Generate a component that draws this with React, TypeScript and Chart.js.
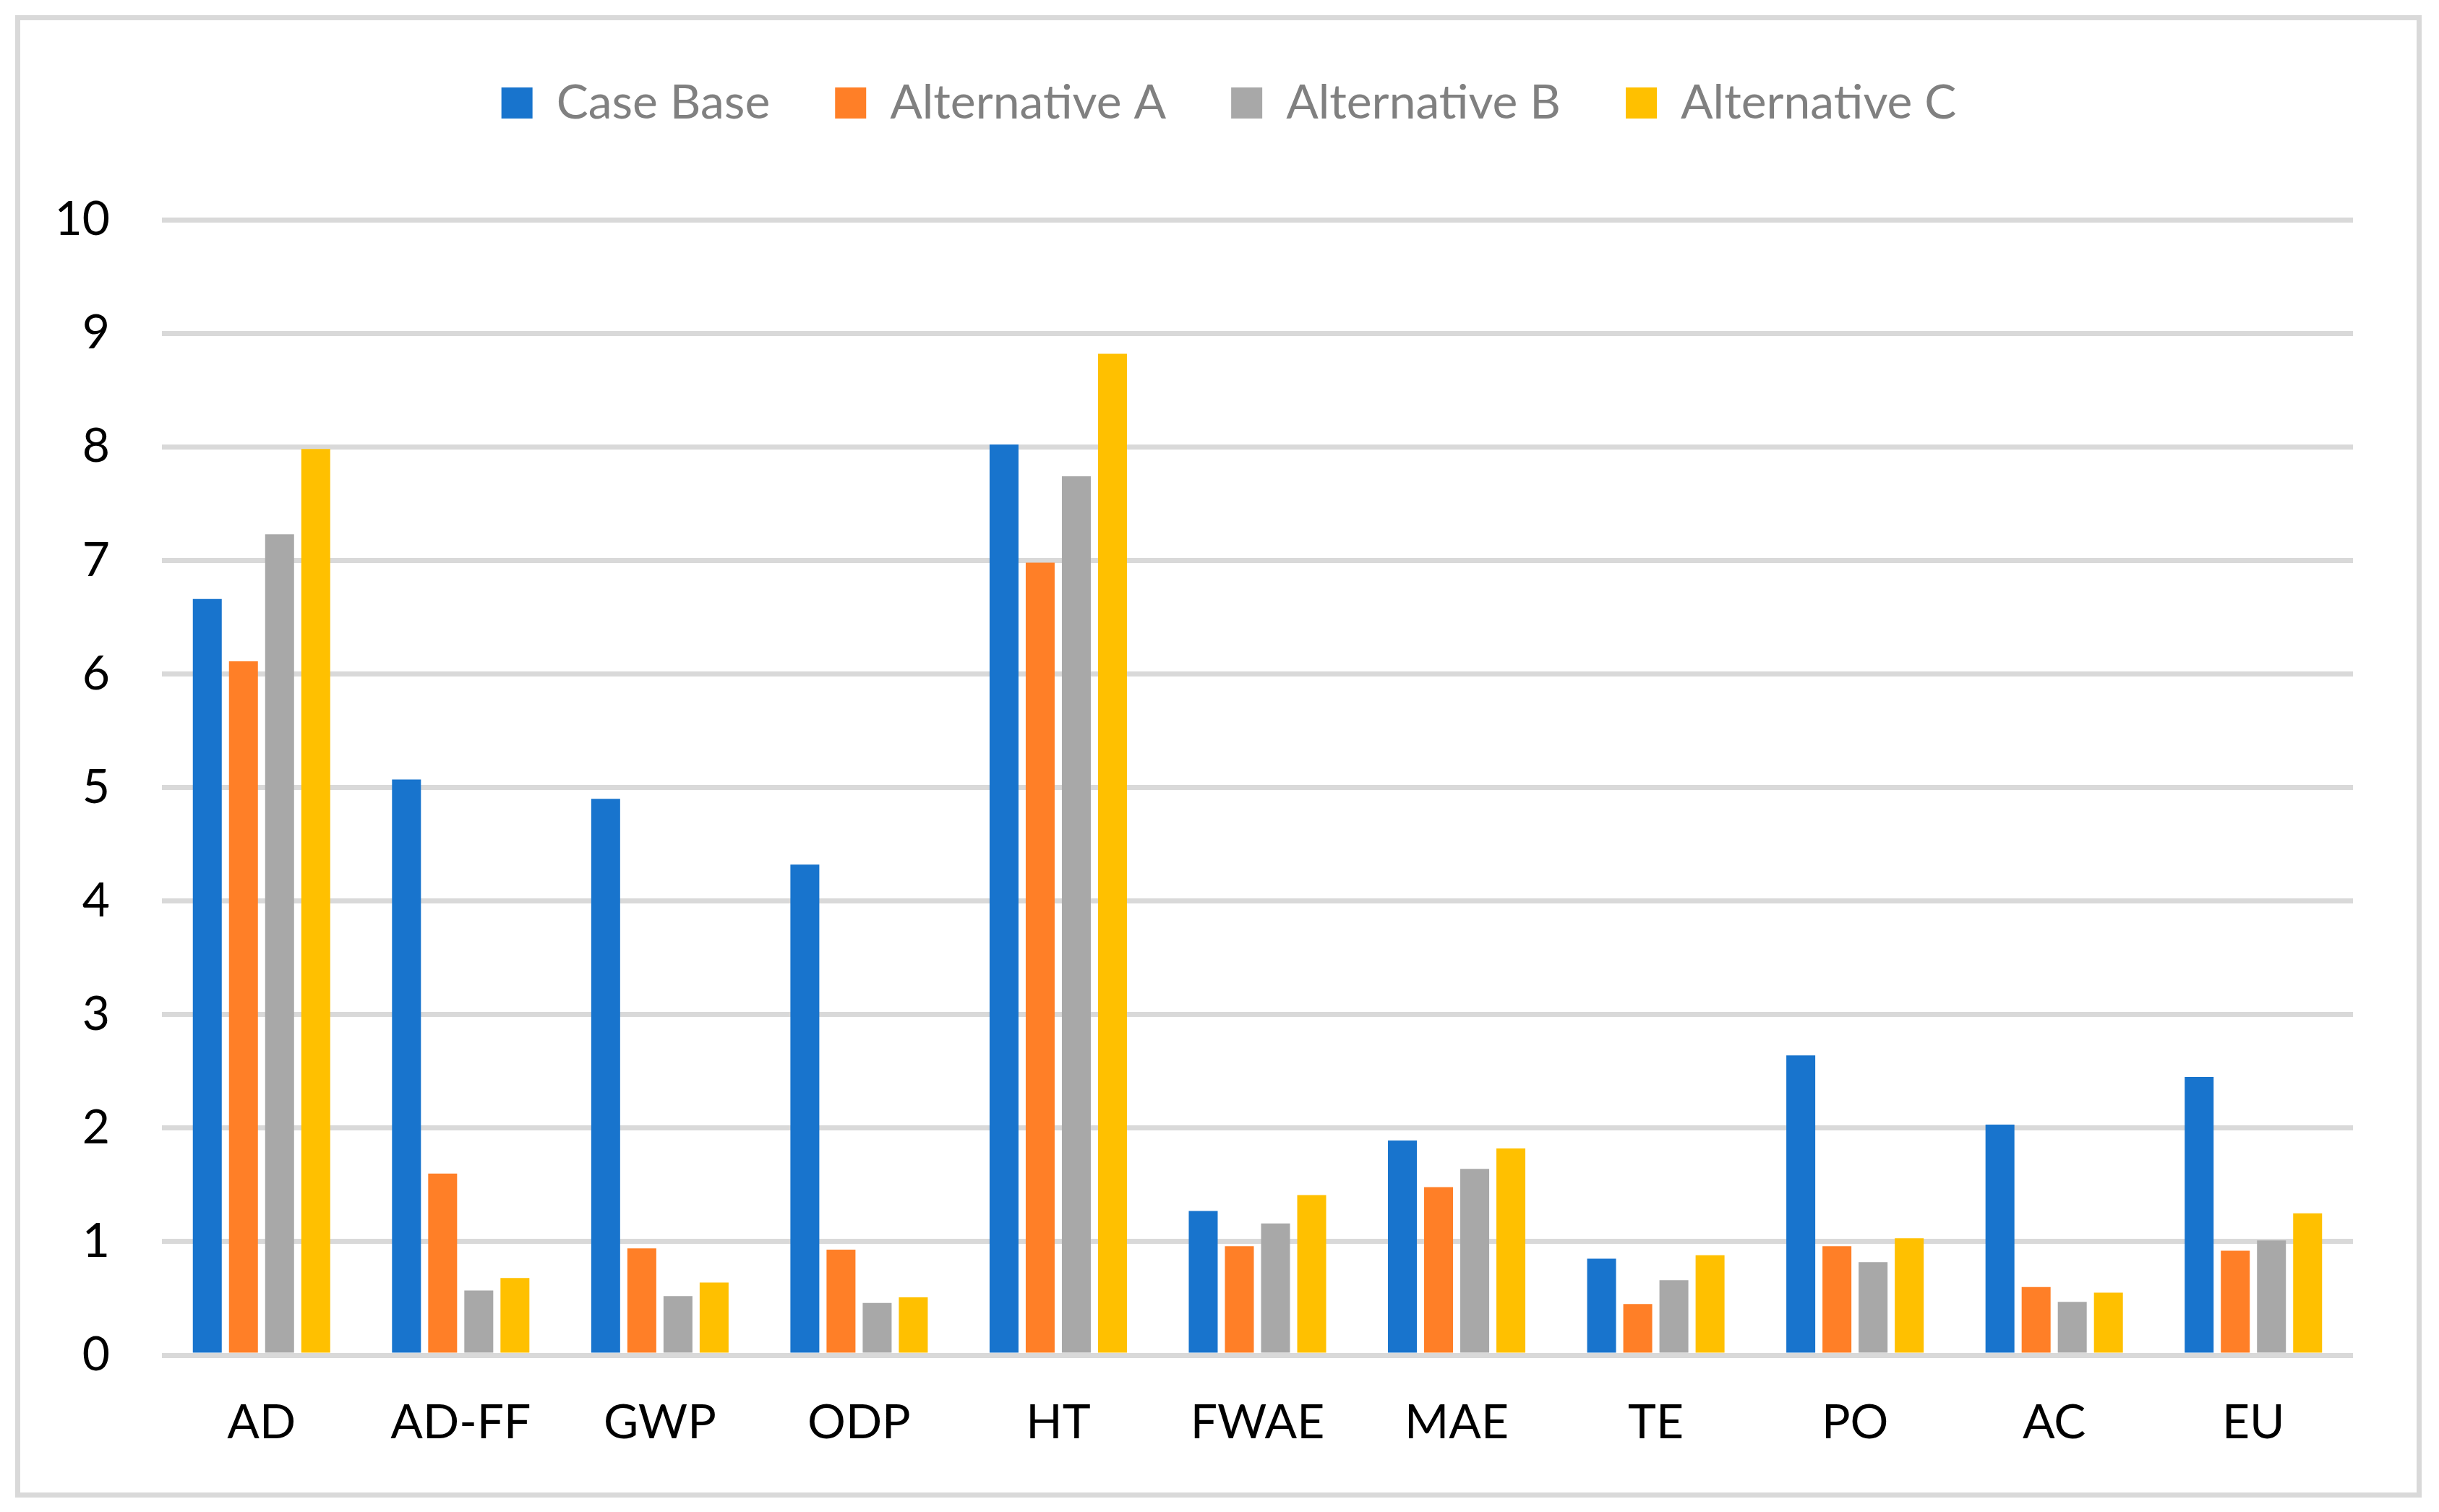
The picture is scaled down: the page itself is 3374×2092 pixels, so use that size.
import React, { useEffect, useRef } from "react";
import { Chart, registerables } from "chart.js";

Chart.register(...registerables);

const categories = ["AD", "AD-FF", "GWP", "ODP", "HT", "FWAE", "MAE", "TE", "PO", "AC", "EU"];
const seriesNames = ["Case Base", "Alternative A", "Alternative B", "Alternative C"];
const caseBase = [6.66, 5.07, 4.9, 4.32, 8.02, 1.27, 1.89, 0.85, 2.64, 2.03, 2.45];
const alternativeA = [6.11, 1.6, 0.94, 0.93, 6.98, 0.96, 1.48, 0.45, 0.96, 0.6, 0.92];
const alternativeB = [7.23, 0.57, 0.52, 0.46, 7.74, 1.16, 1.64, 0.66, 0.82, 0.47, 1.01];
const alternativeC = [7.98, 0.68, 0.64, 0.51, 8.82, 1.41, 1.82, 0.88, 1.03, 0.55, 1.25];
const yTicks = [0, 1, 2, 3, 4, 5, 6, 7, 8, 9, 10];

const colors = ["#1874CD", "#FF7F27", "#A8A8A8", "#FFC000"];

const W = 3374;
const H = 2092;
const PLOT_LEFT = 224;
const PLOT_RIGHT = 3255;
const PLOT_TOP = 304;
const PLOT_BOTTOM = 1875;
const PAD_TOP = 19.5;
const LEGEND_PAD = 90;
const LEGEND_CENTER = 1700;
const FONT = "Lato, 'Open Sans', sans-serif";

const legendPatchPlugin = {
  id: "legendPatch",
  afterInit(chart: any) {
    const legend = chart.legend;
    if (legend && !legend.__patched) {
      const origFit = legend.fit.bind(legend);
      legend.fit = function () {
        origFit();
        this.height = PLOT_TOP - PAD_TOP;
      };
      const origDraw = legend.draw.bind(legend);
      legend.draw = function () {
        const shift = LEGEND_CENTER - (this.left + this.right) / 2;
        this.left += shift;
        this.right += shift;
        origDraw();
        this.left -= shift;
        this.right -= shift;
      };
      legend.__patched = true;
    }
  },
};

export default function App() {
  const ref = useRef<HTMLCanvasElement | null>(null);

  useEffect(() => {
    document.body.style.margin = "0";
    if (!ref.current) return;
    const all = [caseBase, alternativeA, alternativeB, alternativeC];
    const chart = new Chart(ref.current, {
      type: "bar",
      data: {
        labels: categories,
        datasets: seriesNames.map((name, i) => ({
          label: name,
          data: all[i],
          backgroundColor: colors[i],
          borderWidth: 0,
          categoryPercentage: 0.726,
          barPercentage: 0.8,
        })),
      },
      plugins: [legendPatchPlugin],
      options: {
        animation: false,
        responsive: true,
        maintainAspectRatio: false,
        devicePixelRatio: 1,
        layout: {
          padding: { top: PAD_TOP, left: 0, right: W - PLOT_RIGHT, bottom: 0 },
        },
        plugins: {
          tooltip: { enabled: false },
          legend: {
            display: true,
            position: "top",
            labels: {
              boxWidth: 43,
              boxHeight: 43,
              padding: LEGEND_PAD,
              color: "#808080",
              font: { family: FONT, size: 66 },
            },
          },
        },
        scales: {
          x: {
            grid: { display: false, drawTicks: false },
            border: { display: false },
            ticks: {
              color: "#000000",
              padding: 54,
              font: { family: FONT, size: 66 },
              maxRotation: 0,
              autoSkip: false,
            },
            afterFit(scale: any) {
              scale.height = H - PLOT_BOTTOM;
            },
          },
          y: {
            min: 0,
            max: 10,
            afterBuildTicks(scale: any) {
              scale.ticks = yTicks.map((v) => ({ value: v }));
            },
            grid: { color: "#D9D9D9", lineWidth: 7, drawTicks: false },
            border: { display: false },
            ticks: {
              color: "#000000",
              padding: 72,
              font: { family: FONT, size: 66 },
            },
            afterFit(scale: any) {
              scale.width = PLOT_LEFT;
            },
          },
        },
      },
    });
    return () => chart.destroy();
  }, []);

  return (
    <div style={{ position: "fixed", left: 0, top: 0, width: W, height: H, background: "#ffffff" }}>
      <div
        style={{
          position: "absolute",
          left: 21,
          top: 21,
          width: 3329,
          height: 2051,
          border: "7px solid #D9D9D9",
          boxSizing: "border-box",
        }}
      />
      <div style={{ position: "absolute", left: 0, top: 0, width: W, height: H }}>
        <canvas ref={ref} />
      </div>
    </div>
  );
}
